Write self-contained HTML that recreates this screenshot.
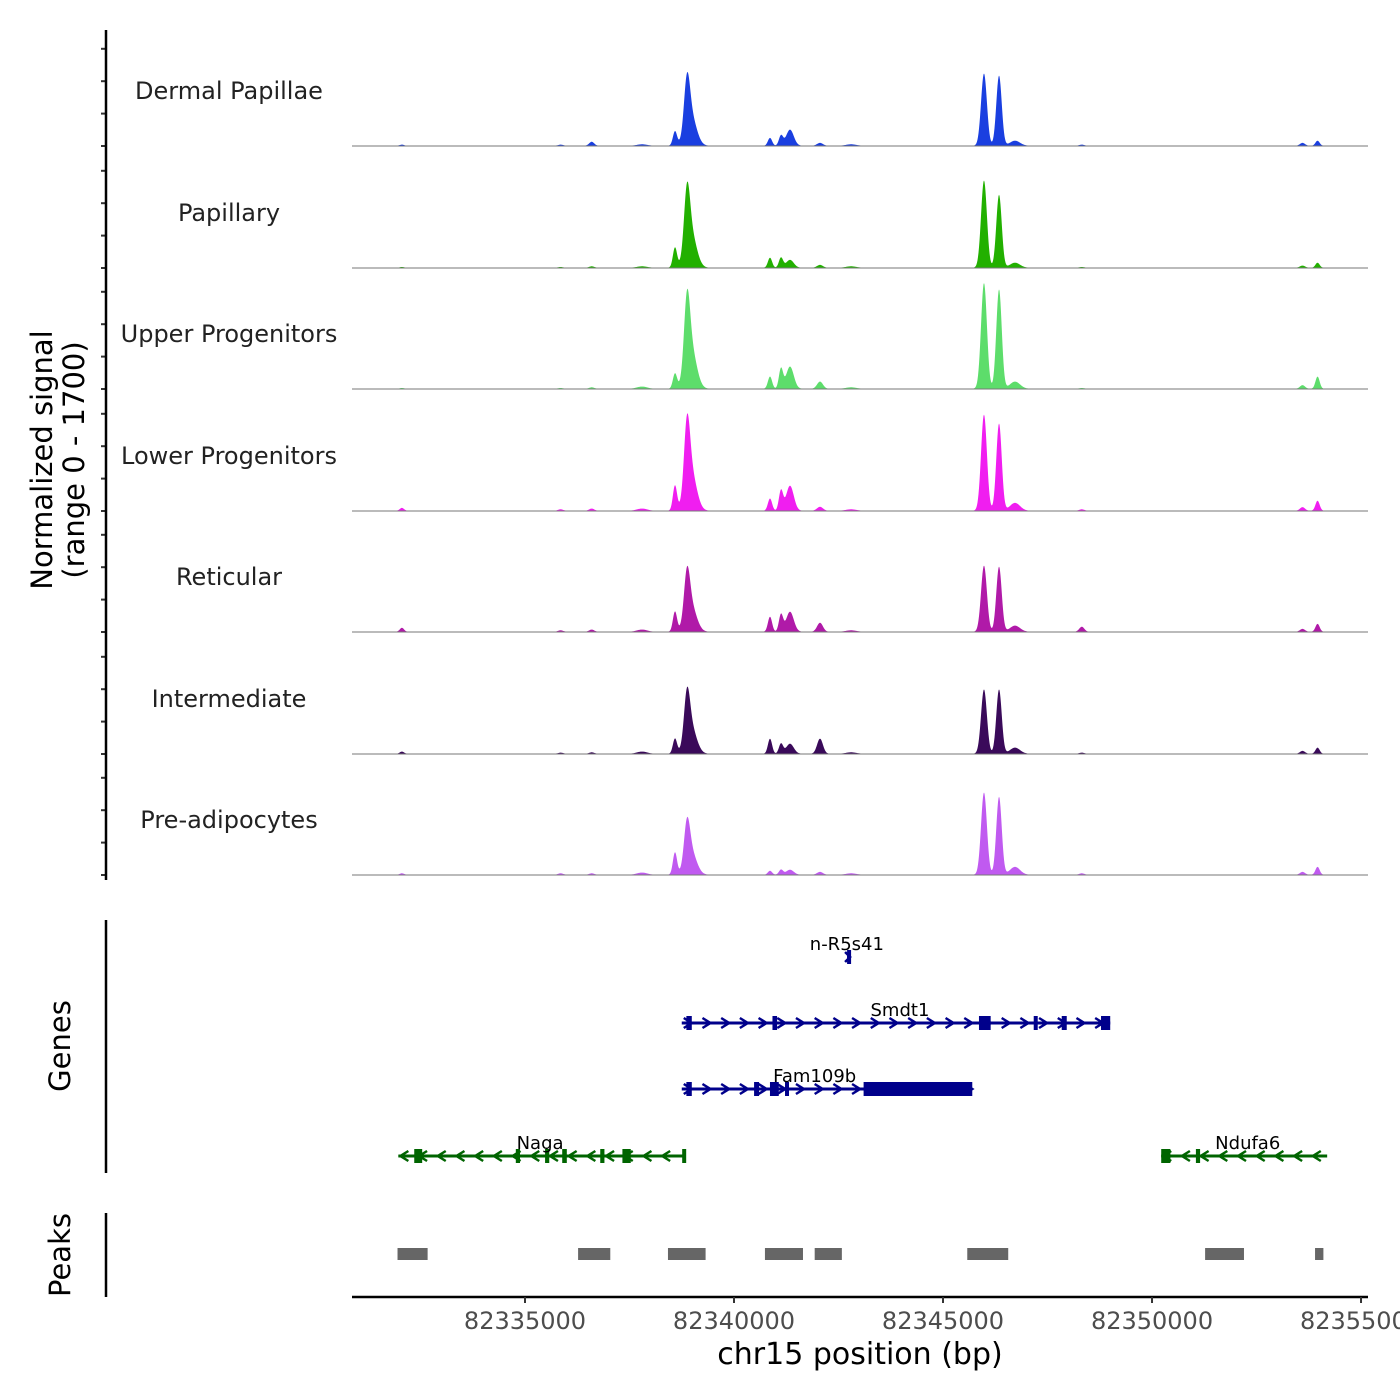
<!DOCTYPE html>
<html><head><meta charset="utf-8">
<style>body{margin:0;background:#fff}svg{display:block;font-family:"DejaVu Sans","Liberation Sans",sans-serif}</style>
</head><body>
<svg id="c" width="1400" height="1400" viewBox="0 0 1400 1400"></svg>
<script>
// ---- data ----
const tracks=["Dermal Papillae","Papillary","Upper Progenitors","Lower Progenitors","Reticular","Intermediate","Pre-adipocytes"];
const colors=["#1a3fe0","#22b000","#5ddd6b","#f01ef0","#b01aa8","#3a0a5a","#c05af0"];
// peak centres (bp) and widths (bp)
const peakCenters=[82338588,82338875,82338970,82340861,82341124,82341339,82342057,82345980,82346340,82346722,82353960,82332055,82336595,82348320,82335850,82337800,82342800,82353600];
const peakWidths=[50,70,130,50,50,90,70,70,65,120,50,50,60,60,60,120,120,60];
// per-track heights (signal units, 0-1700)
const heights=[
 [200,700,420,110,140,225,40,1010,980,70,70,15,55,15,15,20,20,40],
 [280,820,490,140,140,110,40,1220,1020,70,70,10,20,10,10,20,20,30],
 [210,950,570,170,280,310,100,1480,1390,100,170,10,20,10,10,30,20,50],
 [350,930,550,170,280,350,55,1345,1220,110,140,40,30,20,20,30,20,50],
 [280,630,370,210,240,280,125,925,910,85,110,55,30,70,20,30,20,40],
 [210,640,380,210,140,140,210,900,900,85,85,30,20,15,15,30,20,40],
 [310,550,330,55,70,70,40,1150,1090,110,110,20,20,20,20,30,20,40]
];
const xTicks=[82335000,82340000,82345000,82350000,82355000];
const peakStarts=[82331950,82336270,82338420,82340740,82341930,82345580,82351270,82353900];
const peakEnds=[82332670,82337040,82339320,82341650,82342580,82346560,82352200,82354100];
const genes=[
 {name:"n-R5s41",row:0,s:82342705,e:82342760,str:1,lab:82342700,ex:[[82342705,82342760]]},
 {name:"Smdt1",row:1,s:82338750,e:82349000,str:1,lab:82343970,ex:[[82338860,82338990],[82340920,82341030],[82345860,82346140],[82347170,82347260],[82347840,82347960],[82348780,82349000]]},
 {name:"Fam109b",row:2,s:82338750,e:82345700,str:1,lab:82341930,ex:[[82338860,82338990],[82340480,82340600],[82340860,82341070],[82341220,82341300],[82343100,82345700]]},
 {name:"Naga",row:3,s:82331970,e:82338820,str:-1,lab:82335360,ex:[[82332350,82332540],[82334780,82334880],[82335480,82335580],[82335890,82336000],[82336800,82336900],[82337330,82337530],[82338760,82338820]]},
 {name:"Ndufa6",row:3,s:82350220,e:82354190,str:-1,lab:82352290,ex:[[82350220,82350440],[82351050,82351150]]}
];
// ---- scales ----
const X0=82330861,X1=82355167;
const xs=b=>352+(b-X0)*(1368-352)/(X1-X0);
const svg=document.getElementById('c');const NS="http://www.w3.org/2000/svg";
function el(t,a,p){const e=document.createElementNS(NS,t);for(const k in a)e.setAttribute(k,a[k]);(p||svg).appendChild(e);return e;}
const baselines=[146,268,389,511,632,754,875];const PH=121.5;
tracks.forEach((name,ti)=>{
  const g=el('g',{});
  
  
  const base=baselines[ti];const ys=v=>base-v/1700*PH;
  let d="M352,"+base;
  for(let px=352;px<=1323;px+=0.5){
    const b=X0+(px-352)*(X1-X0)/(1368-352);let v=4;
    peakCenters.forEach((c,i)=>{const z=(b-c)/peakWidths[i];v+=heights[ti][i]*Math.exp(-0.5*z*z);});
    d+=" L"+px+","+ys(v).toFixed(2);
  }
  d+=" L1323,"+base+" Z";
  const p=el('path',{d:d,fill:colors[ti]},g);
  
  
  el('line',{x1:352,x2:1368,y1:base,y2:base,stroke:"#777","stroke-width":1},g);
  const t=el('text',{x:229,y:base-47,"font-size":24,"text-anchor":"middle",fill:"#222"},g);t.textContent=name;
  
  
  for(let k=0;k<4;k++){const y=base-k*32.4;el('line',{x1:101,x2:106,y1:y,y2:y,stroke:"#333","stroke-width":2});}
});
// left axis
el('line',{x1:106,x2:106,y1:30,y2:880,stroke:"#000","stroke-width":2.5});
const yt=el('text',{transform:"translate(52,460) rotate(-90)","font-size":29,"text-anchor":"middle"});
yt.innerHTML='<tspan x="0" dy="0">Normalized signal</tspan><tspan x="0" dy="32">(range 0 - 1700)</tspan>';


// genes
el('line',{x1:106,x2:106,y1:920,y2:1173,stroke:"#000","stroke-width":2.5});
const gt=el('text',{transform:"translate(70,1046) rotate(-90)","font-size":29,"text-anchor":"middle"});gt.textContent="Genes";


const rowY=[957,1023,1089,1156];
genes.forEach(g=>{
  const col=g.str>0?"#00008b":"#006400";const y=rowY[g.row];
  const gg=el('g',{});
  
  
  const a=xs(g.s),b=xs(g.e);
  el('line',{x1:a,x2:b,y1:y,y2:y,stroke:col,"stroke-width":3},gg);
  if(b-a>20){for(let x=a+6;x<b-4;x+=18.7){const dx=g.str*4;el('polyline',{points:(x-dx)+","+(y-5)+" "+(x+dx)+","+y+" "+(x-dx)+","+(y+5),fill:"none",stroke:col,"stroke-width":2.5},gg);}}
  else{el('polyline',{points:(a-2)+","+(y-5)+" "+(a+3)+","+y+" "+(a-2)+","+(y+5),fill:"none",stroke:col,"stroke-width":2.5},gg);}
  g.ex.forEach(e=>{const x1=xs(e[0]),x2=xs(e[1]);el('rect',{x:x1,y:y-7,width:Math.max(4,x2-x1),height:14,fill:col},gg);});
  const t=el('text',{x:xs(g.lab),y:y-7,"font-size":18,"text-anchor":"middle",fill:"#000"},gg);t.textContent=g.name;
});
// peaks
el('line',{x1:106,x2:106,y1:1213,y2:1297,stroke:"#000","stroke-width":2.5});
const pt=el('text',{transform:"translate(70,1255) rotate(-90)","font-size":29,"text-anchor":"middle"});pt.textContent="Peaks";


peakStarts.forEach((s,i)=>{const r=el('rect',{x:xs(s),y:1248,width:xs(peakEnds[i])-xs(s),height:12,fill:"#666"});
  
  });
// x axis
el('line',{x1:352,x2:1368,y1:1297,y2:1297,stroke:"#000","stroke-width":2.5});
xTicks.forEach(v=>{const x=xs(v);el('line',{x1:x,x2:x,y1:1297,y2:1303,stroke:"#333","stroke-width":2});
  const t=el('text',{x:x,y:1329,"font-size":24,"text-anchor":"middle",fill:"#4d4d4d"});t.textContent=v;
  
  });
const xt=el('text',{x:860,y:1364,"font-size":30,"text-anchor":"middle"});xt.textContent="chr15 position (bp)";


</script>
</body></html>
